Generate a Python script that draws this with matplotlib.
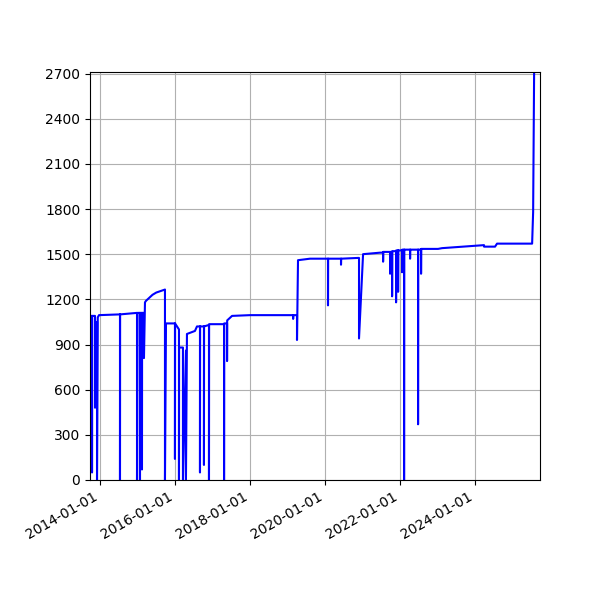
import matplotlib
matplotlib.use("Agg")
import matplotlib.pyplot as plt
import matplotlib.dates as mdates
import pandas as pd
import numpy as np

years = [2013.733, 2013.787, 2013.787, 2013.79, 2013.867, 2013.867, 2013.87, 2013.92, 2013.92, 2013.94, 2013.973,
         2014.533, 2014.533, 2014.536, 2014.987, 2014.987, 2015.0, 2015.067, 2015.067, 2015.07, 2015.12, 2015.12,
         2015.123, 2015.173, 2015.173, 2015.2, 2015.227, 2015.4, 2015.5, 2015.733, 2015.733, 2015.76, 2015.9,
         2016.0, 2016.0, 2016.003, 2016.107, 2016.107, 2016.11, 2016.213, 2016.213, 2016.293, 2016.293, 2016.32,
         2016.533, 2016.587, 2016.667, 2016.667, 2016.67, 2016.773, 2016.773, 2016.776, 2016.907, 2016.907,
         2016.91, 2017.307, 2017.307, 2017.31, 2017.387, 2017.387, 2017.39, 2017.52, 2018.0, 2018.5, 2019.0,
         2019.15, 2019.15, 2019.153, 2019.253, 2019.253, 2019.28, 2019.6, 2020.08, 2020.08, 2020.083, 2020.427,
         2020.427, 2020.43, 2020.88, 2020.907, 2020.907, 2021.013, 2021.467, 2021.547, 2021.547, 2021.55,
         2021.733, 2021.733, 2021.736, 2021.787, 2021.787, 2021.79, 2021.893, 2021.893, 2021.896, 2021.947,
         2021.947, 2021.95, 2022.053, 2022.053, 2022.056, 2022.107, 2022.107, 2022.11, 2022.267, 2022.267,
         2022.27, 2022.48, 2022.48, 2022.483, 2022.56, 2022.56, 2022.563, 2023.013, 2023.12, 2024.24, 2024.24,
         2024.533, 2024.587, 2025.52, 2025.547, 2025.573]
values = [1090, 1090, 50, 1090, 1090, 480, 1000, 1050, 0, 1080, 1095,
          1100, 0, 1100, 1110, 0, 1110, 1110, 0, 1110, 1110, 70,
          1110, 1110, 810, 1180, 1190, 1230, 1245, 1265, 0, 1040, 1040,
          1040, 140, 1040, 1000, 0, 880, 880, 0, 860, 0, 970,
          990, 1020, 1020, 50, 1020, 1020, 100, 1020, 1030, 0,
          1035, 1035, 0, 1040, 1040, 790, 1060, 1090, 1095, 1095, 1095,
          1095, 1070, 1095, 1095, 930, 1460, 1470, 1470, 1160, 1470, 1470,
          1430, 1470, 1475, 1475, 940, 1500, 1510, 1510, 1450, 1515,
          1515, 1370, 1515, 1515, 1220, 1520, 1520, 1180, 1525, 1525,
          1250, 1525, 1525, 1380, 1530, 1530, 0, 1530, 1530, 1470,
          1530, 1530, 370, 1530, 1530, 1370, 1535, 1535, 1540, 1560, 1550,
          1550, 1570, 1570, 1780, 2700]

def to_date(y):
    yr = int(np.floor(y))
    return pd.Timestamp(year=yr, month=1, day=1) + pd.Timedelta(days=(y - yr) * 365.25)

dates = [to_date(y) for y in years]

fig, ax = plt.subplots(figsize=(6, 6), dpi=100)
fig.subplots_adjust(left=0.15, right=0.9, top=0.88, bottom=0.2)
ax.plot(dates, values, color="blue")
ax.set_ylim(0, 2710)
ax.set_yticks(range(0, 2701, 300))
ax.set_xlim(to_date(2013.733), to_date(2025.73))
ax.xaxis.set_major_locator(mdates.YearLocator(2))
ax.xaxis.set_major_formatter(mdates.DateFormatter("%Y-%m-%d"))
ax.grid(True)
fig.autofmt_xdate()
fig.savefig("out.png")
